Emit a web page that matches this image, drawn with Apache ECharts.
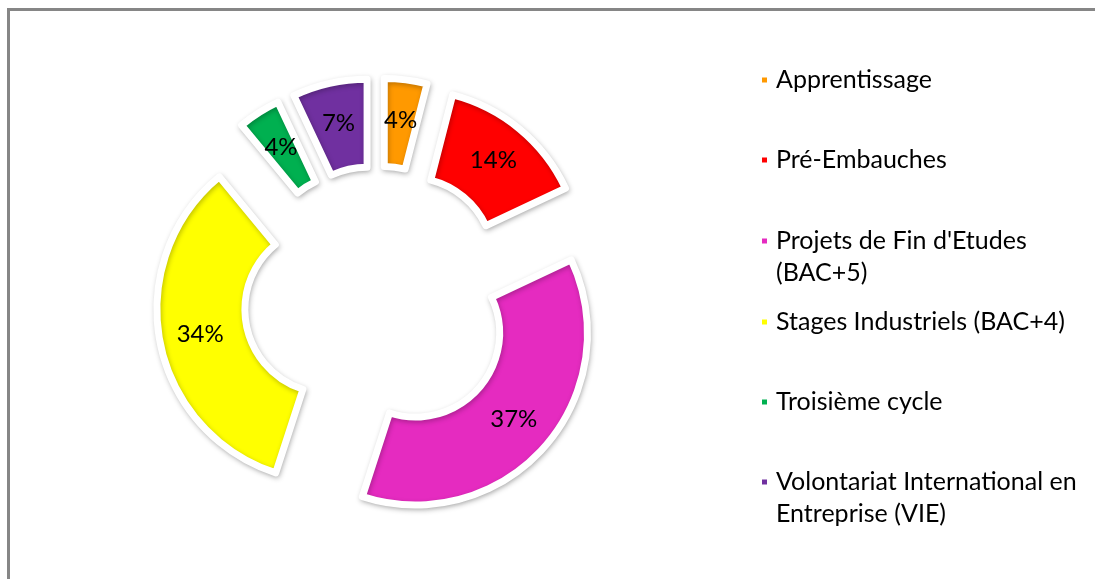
<!DOCTYPE html>
<html>
<head>
<meta charset="utf-8">
<script src="https://cdn.jsdelivr.net/npm/echarts@6/dist/echarts.min.js"></script>
<style>
  html, body { margin: 0; padding: 0; background: #fff; }
</style>
</head>
<body>
<div
  id="frame"
  style="
    position: absolute;
    left: 7px;
    top: 8px;
    width: 1088px;
    height: 571px;
    border-left: 3px solid #868686;
    border-top: 3px solid #868686;
  "
></div>
<div id="chart_main" style="position: absolute; left: 0; top: 0; width: 1095px; height: 579px"></div>
<script>
  // catégories (ordre Excel, départ à midi, sens horaire)
  let categories = [
    "Apprentissage",
    "Pré-Embauches",
    "Projets de Fin d'Etudes (BAC+5)",
    "Stages Industriels (BAC+4)",
    "Troisième cycle",
    "Volontariat International en Entreprise (VIE)",
  ];
  // texte de légende tel qu'il est coupé sur l'image
  let legendLines = [
    "Apprentissage",
    "Pré-Embauches",
    "Projets de Fin d'Etudes\n(BAC+5)",
    "Stages Industriels (BAC+4)",
    "Troisième cycle",
    "Volontariat International en\nEntreprise (VIE)",
  ];
  let shares = [4, 14, 37, 34, 4, 7];
  let colors = ["#FF9900", "#FF0000", "#E52BC0", "#FFFF00", "#00B050", "#7030A0"];

  let font = "Lato";
  // centre vertical de la première ligne de chaque entrée
  let legendRows = [80, 160, 241, 322, 402, 482];

  let chart = echarts.init(document.getElementById("chart_main"));

  let sliceStyle = {
    borderColor: "#fff",
    borderWidth: 7,
    shadowBlur: 5,
    shadowOffsetX: 1,
    shadowOffsetY: 2,
    shadowColor: "rgba(0,0,0,0.25)",
  };

  let legends = categories.map(function (name, i) {
    let wrapped = legendLines[i].indexOf("\n") >= 0;
    return {
      orient: "vertical",
      left: 760,
      top: legendRows[i] - (wrapped ? 48 : 16),
      padding: 0,
      itemWidth: 7,
      itemHeight: 7,
      icon: "rect",
      selectedMode: false,
      data: [{ name: name, itemStyle: { color: colors[i] } }],
      formatter: function () {
        // ligne vide devant : la 1re ligne reste alignée sur le carré
        return wrapped ? "\n" + legendLines[i] : legendLines[i];
      },
      textStyle: {
        fontFamily: font,
        fontSize: 25,
        color: "#000",
        lineHeight: 32,
        padding: [0, 0, 0, 3],
      },
    };
  });

  let option = {
    animation: false,
    color: colors,
    legend: legends,
    series: [
      {
        type: "pie",
        center: [378, 300],
        radius: [84, 172],
        startAngle: 90,
        clockwise: true,
        selectedMode: "multiple",
        selectedOffset: 50,
        itemStyle: sliceStyle,
        select: { itemStyle: sliceStyle },
        emphasis: { scale: false },
        label: {
          show: true,
          position: "inside",
          formatter: "{c}%",
          fontFamily: font,
          fontSize: 24,
          color: "#000",
        },
        labelLine: { show: false },
        data: categories.map(function (name, i) {
          return { name: name, value: shares[i], selected: true };
        }),
      },
    ],
  };

  chart.setOption(option);
</script>
</body>
</html>
